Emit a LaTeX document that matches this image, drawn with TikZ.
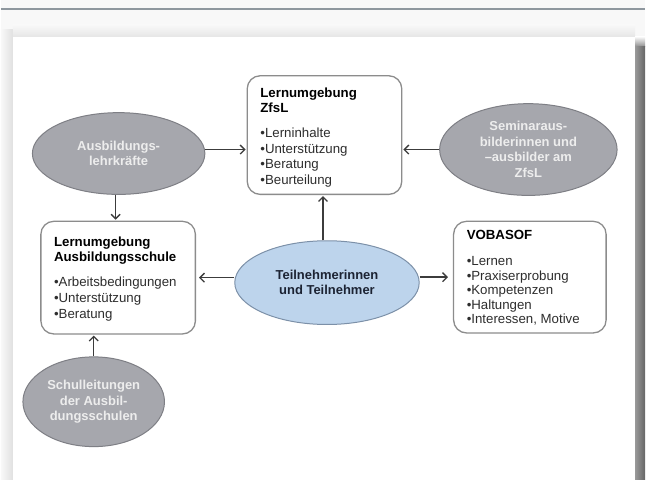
\documentclass[tikz,border=0pt]{standalone}
\usepackage{fontspec}
\setmainfont{Liberation Sans}
\usetikzlibrary{arrows.meta,shapes.geometric}
\definecolor{bgc}{HTML}{F8F8F8}
\definecolor{topl}{HTML}{8E979E}
\definecolor{ellg}{HTML}{A6A7AD}
\definecolor{ellgd}{HTML}{7E7F85}
\definecolor{ellb}{HTML}{BDD4EC}
\definecolor{ellbd}{HTML}{7C90A8}
\definecolor{boxd}{HTML}{8C8C8C}
\definecolor{arrc}{HTML}{3C3C3C}
\definecolor{bodyt}{HTML}{2E2E2E}
\definecolor{navy}{HTML}{1C2333}
\definecolor{elltext}{HTML}{EDEDED}
\newcommand\boxtitle[1]{\textcolor{black}{\bfseries #1}}
\begin{document}
\begin{tikzpicture}[x=1pt,y=-1pt,
  envbox/.style={draw=boxd, line width=1.3pt, fill=white, rounded corners=13pt, inner sep=0pt},
  boxtext/.style={anchor=base west, align=left, inner sep=0pt, font=\fontsize{13.3}{16}\selectfont, text=bodyt},
  grayell/.style={ellipse, draw=ellgd, line width=1pt, fill=ellg, inner sep=0pt, align=center, text=elltext, font=\fontsize{13}{15.5}\selectfont\bfseries},
  blueell/.style={grayell, draw=ellbd, fill=ellb, text=navy},
  arr/.style={draw=arrc, line width=1.3pt, -{Straight Barb[length=4.5pt,width=9pt]}, shorten >=1pt}]
% background and panel
\fill[bgc] (0,0) rectangle (646,481);
\draw[topl, line width=2pt] (0,9) -- (646,9);
\shade[left color=bgc, right color=black!12] (0,30) rectangle (12,481);
\shade[top color=bgc, bottom color=black!10] (12,25) rectangle (636,37);
\shade[top color=bgc, bottom color=black!45] (636,37) rectangle (646,47);
\shade[left color=black!40, right color=black!60] (636,47) rectangle (646,481);
\fill[white] (12,37) rectangle (636,481);
% boxes (text anchored at the baseline of its last line)
\node[envbox, minimum width=155pt, minimum height=119pt] (Z) at (324.5,135.5) {};
\node[boxtext] (Zt) at (260,185.5) {\boxtitle{Lernumgebung}\\[-1pt]\boxtitle{ZfsL}\\[9pt]•Lerninhalte\\•Unterstützung\\•Beratung\\•Beurteilung};
\node[envbox, minimum width=155pt, minimum height=113pt] (S) at (117.5,278.5) {};
\node[boxtext] (St) at (53,319.5) {\boxtitle{Lernumgebung}\\[-1pt]\boxtitle{Ausbildungsschule}\\[9pt]•Arbeitsbedingungen\\•Unterstützung\\•Beratung};
\node[envbox, minimum width=153pt, minimum height=112pt] (V) at (530.5,278) {};
\node[boxtext] (Vt) at (467,324.5) {\boxtitle{VOBASOF}\\[10.5pt]•Lernen\\[-1.5pt]•Praxiserprobung\\[-1.5pt]•Kompetenzen\\[-1.5pt]•Haltungen\\[-1.5pt]•Interessen, Motive};
% ellipses
\node[grayell, minimum width=173pt, minimum height=82pt] (E1) at (118,154) {Ausbildungs-\\lehrkräfte};
\node[grayell, minimum width=178pt, minimum height=92pt] (E2) at (529,150) {Seminaraus-\\bilderinnen und\\–ausbilder am\\ZfsL};
\node[blueell, minimum width=185pt, minimum height=84pt] (E3) at (327,283.5) {Teilnehmerinnen\\und Teilnehmer};
\node[grayell, minimum width=142pt, minimum height=90pt] (E4) at (93,403) {Schulleitungen\\der Ausbil-\\dungsschulen};
% connectors
\draw[arr] ([yshift=4pt]E1.east) -- ([yshift=4pt]E1.east -| Z.west);
\draw[arr] (E2.west) -- (E2.west -| Z.east);
\draw[arr] ([xshift=-3pt]E1.south) -- ([xshift=-3pt]E1.south |- S.north);
\draw[arr] ([xshift=-4pt]E3.north) -- ([xshift=-4pt]E3.north |- Z.south);
\draw[arr, shorten >=3pt] (S.east -| E3.west) -- (S.east);
\draw[arr, shorten >=5pt] (V.west -| E3.east) -- (V.west);
\draw[arr] (E4.north) -- (E4.north |- S.south);
\end{tikzpicture}
\end{document}
